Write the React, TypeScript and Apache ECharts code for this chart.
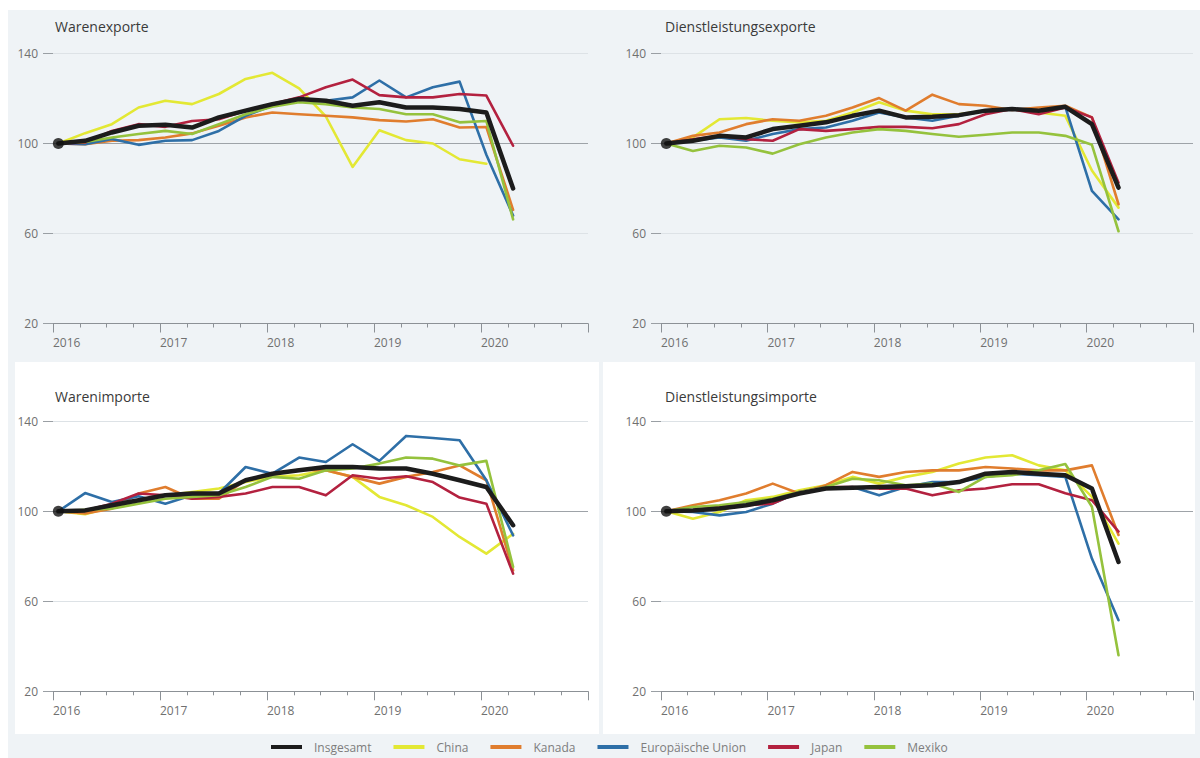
import React, { useEffect, useRef } from "react";
import * as echarts from "echarts";

// ---------- data ----------
const YEAR_LABELS = ["2016", "2017", "2018", "2019", "2020"];
const QUARTERS = [
  "2016Q1", "2016Q2", "2016Q3", "2016Q4", "2017Q1", "2017Q2", "2017Q3", "2017Q4",
  "2018Q1", "2018Q2", "2018Q3", "2018Q4", "2019Q1", "2019Q2", "2019Q3", "2019Q4",
  "2020Q1", "2020Q2",
];
const SERIES_NAMES = ["Insgesamt", "China", "Kanada", "Europäische Union", "Japan", "Mexiko"];
const PANEL_TITLES = ["Warenexporte", "Dienstleistungsexporte", "Warenimporte", "Dienstleistungsimporte"];
const Y_MIN = 20;
const Y_MAX = 140;
const Y_STEP = 40;

// Warenexporte
const wxInsgesamt = [100, 101.2, 104.9, 107.9, 108.3, 107.1, 111.6, 114.6, 117.5, 119.8, 119, 116.8, 118.3, 116, 116, 115.3, 113.8, 80];
const wxChina = [100, 104.6, 108.6, 116, 119, 117.5, 122, 128.7, 131.4, 124.5, 112, 89.6, 105.9, 101.5, 100, 93, 91, null];
const wxKanada = [100, 99.7, 101.2, 101.5, 102.7, 104.5, 107.9, 111.6, 113.8, 113, 112.3, 111.6, 110.4, 109.8, 110.8, 107.1, 107.3, 70.5];
const wxEU = [100, 99.7, 102, 99.4, 101.2, 101.5, 105.6, 112.3, 116.8, 119.8, 119, 120.5, 128, 120.5, 125, 127.5, 95, 68];
const wxJapan = [100, 100.4, 105.6, 108.6, 107.4, 110, 110.8, 114.6, 117.5, 120.5, 125, 128.4, 121.5, 120.5, 120.5, 122, 121.3, 99];
const wxMexiko = [100, 100.7, 102.7, 104.2, 105.6, 104.2, 108.6, 113, 116.3, 118.3, 117.5, 116, 115.3, 113, 113, 109.4, 110, 66.3];

// Dienstleistungsexporte
const dxInsgesamt = [100, 101.2, 103.4, 102.7, 106.4, 107.9, 109.4, 112.3, 114.6, 111.6, 111.9, 112.6, 114.6, 115.3, 114.6, 116.3, 108.6, 80.4];
const dxChina = [100, 102.7, 110.8, 111.3, 110.1, 109.4, 110.1, 113.8, 118.3, 114.6, 113, 113, 114.6, 115.3, 113.8, 112.3, 88, 71.5];
const dxKanada = [100, 103.4, 104.9, 108.6, 110.8, 110.1, 112.3, 116, 120.2, 114.6, 121.7, 117.5, 116.8, 114.9, 116, 116.8, 111.6, 73];
const dxEU = [100, 101.2, 102.7, 101.2, 104.2, 106.4, 107.1, 110.1, 113.8, 111.6, 110.1, 112.3, 114.6, 115.3, 114.6, 116.3, 78.9, 66.3];
const dxJapan = [100, 101.9, 103.4, 101.9, 101.2, 106.4, 105.6, 106.4, 107.4, 107.4, 106.8, 108.6, 113, 115.3, 113, 116, 111.6, 82.6];
const dxMexiko = [100, 96.7, 99, 98.2, 95.5, 99.7, 102.7, 104.9, 106.4, 105.6, 104.2, 103, 103.9, 104.9, 104.9, 103.4, 99.4, 61];

// Warenimporte
const wmInsgesamt = [100, 100.4, 102.7, 104.9, 107.1, 107.9, 107.9, 113.8, 116.7, 118.2, 119.7, 119.7, 119, 119, 116.7, 113.8, 110.8, 93.8];
const wmChina = [100, 98.7, 101.9, 104.9, 107.1, 108.6, 110.1, 113, 115.3, 116, 118.2, 115.3, 106.4, 102.7, 97.5, 88.6, 81.2, 90];
const wmKanada = [100, 99, 101.2, 107.9, 110.8, 105.6, 105.6, 113.8, 116.7, 118.5, 118.2, 115.3, 112.3, 115.3, 117.5, 120.4, 113.8, 73.8];
const wmEU = [100, 108.1, 104.1, 106.7, 103.4, 107.1, 107.9, 119.7, 116.7, 123.9, 121.9, 129.8, 122.4, 133.5, 132.6, 131.6, 113.8, 89.3];
const wmJapan = [100, 100.4, 103.4, 107.9, 107.1, 105.6, 106.4, 107.9, 110.8, 110.8, 107.1, 116, 114.5, 115.6, 113, 106.1, 103.4, 72.3];
const wmMexiko = [100, 100.7, 101.2, 103.4, 105.6, 106.4, 107.1, 110.8, 115.3, 114.5, 118.2, 119, 121.2, 123.9, 123.4, 120.4, 122.4, 75.3];

// Dienstleistungsimporte
const dmInsgesamt = [100, 100.4, 101.2, 102.7, 104.9, 107.9, 110.1, 110.5, 110.8, 111.1, 111.6, 113, 116.7, 117.5, 116.7, 116, 110.1, 77.5];
const dmChina = [100, 96.7, 99.7, 104.9, 106.4, 109.3, 111.6, 115.3, 112.3, 115.3, 117.5, 121.2, 123.9, 124.9, 120.4, 118.2, 106.4, 85.6];
const dmKanada = [100, 102.7, 104.9, 107.9, 112.3, 107.9, 111.6, 117.5, 115.3, 117.5, 118.2, 118.2, 119.7, 119, 118.2, 118.2, 120.4, 89.5];
const dmEU = [100, 99.7, 98.2, 99.7, 103.4, 108.6, 110.1, 110.8, 107.1, 110.8, 113, 113, 115.3, 116.7, 116, 115.3, 79, 51.6];
const dmJapan = [100, 100.4, 101.9, 102.7, 103.4, 108.6, 110.8, 110.8, 110.1, 110.1, 107.1, 109.3, 110.1, 112, 112, 108, 104.9, 91];
const dmMexiko = [100, 101.9, 102.7, 104.1, 105.6, 108.6, 110.8, 114.5, 113.8, 111.6, 112.3, 108.6, 115.3, 116, 118.2, 121, 102, 36];

const PANEL_DATA = [
  [wxInsgesamt, wxChina, wxKanada, wxEU, wxJapan, wxMexiko],
  [dxInsgesamt, dxChina, dxKanada, dxEU, dxJapan, dxMexiko],
  [wmInsgesamt, wmChina, wmKanada, wmEU, wmJapan, wmMexiko],
  [dmInsgesamt, dmChina, dmKanada, dmEU, dmJapan, dmMexiko],
];

// ---------- layout & style ----------
const FONT = '"Open Sans", "Noto Sans", sans-serif';
const COLORS = ["#1c1c1c", "#e3e834", "#e07d2e", "#2e6fa7", "#b3213f", "#95c23d"];
const WIDTHS = [4.5, 2.6, 2.6, 2.6, 2.6, 2.6];
const GRIDS = [
  { left: 53, top: 53.5, width: 535, height: 270, tx: 55, ty: 19 },
  { left: 661, top: 53.5, width: 532, height: 270, tx: 665, ty: 19 },
  { left: 53, top: 421.3, width: 535, height: 270, tx: 55, ty: 389 },
  { left: 661, top: 421.3, width: 532, height: 270, tx: 665, ty: 389 },
];
const DRAW_ORDER = [1, 2, 3, 4, 5, 0];

export default function App() {
  const ref = useRef<HTMLDivElement>(null);

  useEffect(() => {
    if (!ref.current) return;
    const chart = echarts.init(ref.current, undefined, { renderer: "svg" });

    const xAxis: any[] = [];
    const yAxis: any[] = [];
    const series: any[] = [];

    GRIDS.forEach((g, p) => {
      // visible time axis (quarter index, 2016Q1 = 0 .. 2021Q1 = 20)
      xAxis.push({
        type: "value",
        gridIndex: p,
        min: 0,
        max: 20,
        interval: 4,
        axisLine: { show: true, lineStyle: { color: "#8c9196", width: 1 } },
        axisTick: { show: true, length: 9, lineStyle: { color: "#8c9196" } },
        minorTick: { show: true, splitNumber: 4, length: 4, lineStyle: { color: "#8c9196" } },
        splitLine: { show: false },
        axisLabel: {
          show: true,
          margin: 13,
          align: "left",
          color: "#707070",
          fontSize: 12,
          fontFamily: FONT,
          formatter: (v: number) => (v % 4 === 0 && v < 20 ? YEAR_LABELS[v / 4] : ""),
        },
      });
      // hidden data axis (observations sit a little after the quarter start)
      xAxis.push({
        type: "value",
        gridIndex: p,
        min: -0.2,
        max: 19.8,
        show: false,
      });
      yAxis.push({
        type: "value",
        gridIndex: p,
        min: Y_MIN,
        max: Y_MAX,
        interval: Y_STEP,
        axisLine: { show: false },
        axisTick: { show: true, length: 10, lineStyle: { color: "#9a9fa4" } },
        axisLabel: { margin: 15, color: "#707070", fontSize: 12, fontFamily: FONT },
        splitLine: {
          show: true,
          lineStyle: { color: ["#8c9196", "#dde2e6", "#9ea3a8", "#dde2e6"], width: 1 },
        },
      });

      DRAW_ORDER.forEach((s) => {
        const values = PANEL_DATA[p][s];
        series.push({
          type: "line",
          name: SERIES_NAMES[s],
          xAxisIndex: p * 2 + 1,
          yAxisIndex: p,
          data: values.map((v, i) => [i, v]),
          symbol: "none",
          connectNulls: false,
          lineStyle: { color: COLORS[s], width: WIDTHS[s], join: "round", cap: "round" },
          itemStyle: { color: COLORS[s] },
          z: s === 0 ? 5 : 3,
          silent: true,
        });
      });
      // start point marker
      series.push({
        type: "scatter",
        name: "Start",
        xAxisIndex: p * 2 + 1,
        yAxisIndex: p,
        data: [[0, PANEL_DATA[p][0][0]]],
        symbol: "circle",
        symbolSize: 11,
        itemStyle: { color: "#111" },
        z: 6,
        silent: true,
      });
    });

    const option: any = {
      animation: false,
      backgroundColor: "#ffffff",
      textStyle: { fontFamily: FONT },
      graphic: [
        { type: "rect", z: -10, silent: true, shape: { x: 8, y: 10, width: 1192, height: 748 }, style: { fill: "#eff3f6" } },
        { type: "rect", z: -9, silent: true, shape: { x: 15, y: 362, width: 584, height: 372 }, style: { fill: "#ffffff" } },
        { type: "rect", z: -9, silent: true, shape: { x: 603, y: 362, width: 592, height: 372 }, style: { fill: "#ffffff" } },
      ],
      title: GRIDS.map((g, p) => ({
        text: PANEL_TITLES[p],
        left: g.tx,
        top: g.ty,
        padding: 0,
        textStyle: { fontSize: 14, fontWeight: "normal", color: "#3a3a3a", fontFamily: FONT },
      })),
      legend: {
        left: 271,
        top: 741,
        padding: 0,
        itemWidth: 31,
        itemHeight: 4,
        itemGap: 22,
        icon: "rect",
        selectedMode: false,
        data: SERIES_NAMES,
        textStyle: { color: "#7d7d7d", fontSize: 12, fontFamily: FONT, padding: [0, 0, 0, 7] },
      },
      grid: GRIDS.map((g) => ({ left: g.left, top: g.top, width: g.width, height: g.height })),
      xAxis,
      yAxis,
      series,
    };

    chart.setOption(option);
    return () => chart.dispose();
  }, []);

  return (
    <div
      ref={ref}
      style={{ position: "absolute", left: 0, top: 0, width: 1200, height: 758 }}
    />
  );
}
